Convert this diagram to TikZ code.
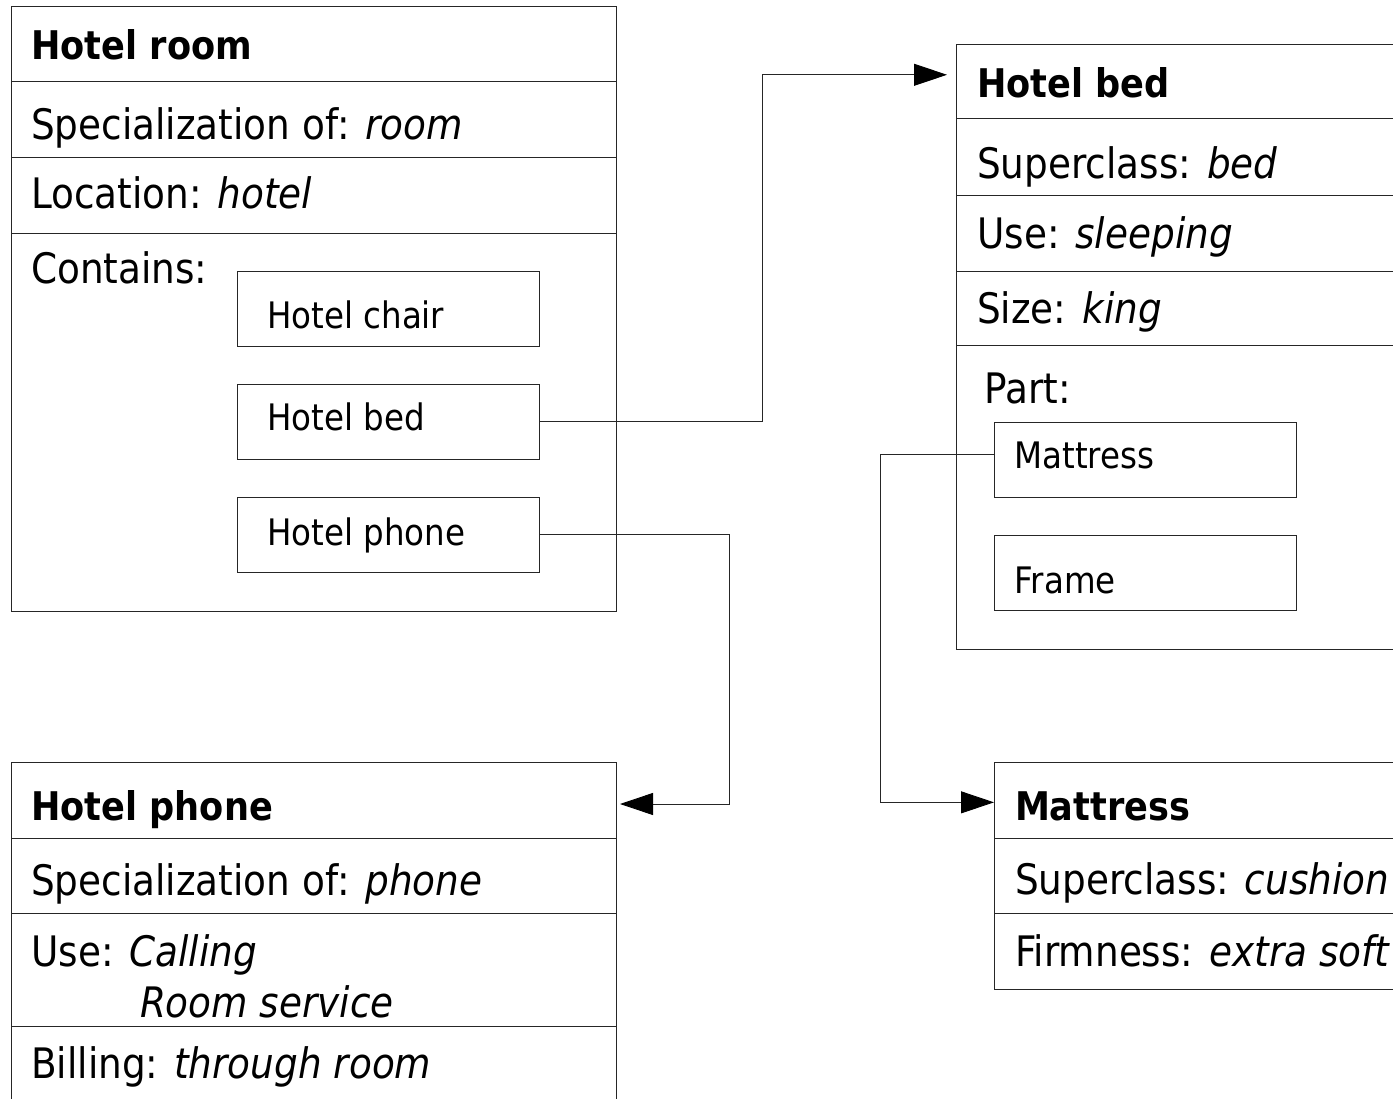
\documentclass[tikz,border=0pt]{standalone}
\usepackage{fontspec}
\setmainfont{DejaVu Sans}[FakeStretch=0.89]
\usetikzlibrary{
arrows.meta,
positioning
}

\begin{document}
\begin{tikzpicture}[
x=1pt, y=1pt,
row/.style={
rectangle,
draw=black!85,
line width=0.9pt,
anchor=north west,
inner sep=0pt,
outer sep=0pt,
minimum width=#1
},
part/.style={
rectangle,
draw=black!85,
line width=0.9pt,
anchor=north west,
inner sep=0pt,
outer sep=0pt,
minimum width=302pt,
minimum height=75.5pt
},
title/.style={anchor=base west, inner sep=0pt,
font=\fontsize{39.5}{47}\selectfont\bfseries},
field/.style={anchor=base west, inner sep=0pt,
font=\fontsize{42}{51}\selectfont},
item/.style={anchor=base west, inner sep=0pt,
font=\fontsize{36.5}{44}\selectfont},
arrow/.style={-{Triangle[length=33pt,width=22pt,color=black]},
draw=black!85, line width=0.9pt}
]

\useasboundingbox (0,0) rectangle (1393,-1099);
\clip (0,0) rectangle (1393,-1099);

% Hotel room
\node[row=605pt, minimum height=75pt] (roomA) at (11,-6) {};
\node[row=605pt, minimum height=76pt, below=0pt of roomA] (roomB) {};
\node[row=605pt, minimum height=76pt, below=0pt of roomB] (roomC) {};
\node[row=605pt, minimum height=378pt, below=0pt of roomC] (roomD) {};

\node[title] (roomT) at ([shift={(20,-53.3)}]roomA.north west) {Hotel room};
\node[field] (roomS) at ([shift={(20,-59)}]roomB.north west)
{Specialization of: \textit{room}};
\node[field] (roomL) at ([shift={(20,-52)}]roomC.north west)
{Location: \textit{hotel}};
\node[field] (roomK) at ([shift={(20,-51)}]roomD.north west) {Contains:};

\node[part] (chair) at (237.8,-271) {};
\node[part, below=37.5pt of chair] (bedref) {};
\node[part, below=37.5pt of bedref] (phoneref) {};

\node[item] (chairL) at ([shift={(29.2,-58)}]chair.north west) {Hotel chair};
\node[item] (bedrefL) at ([shift={(29.2,-47)}]bedref.north west) {Hotel bed};
\node[item] (phonerefL) at ([shift={(29.2,-48)}]phoneref.north west)
{Hotel phone};

% Hotel bed
\node[row=560pt, minimum height=73.6pt] (bedA) at (956.5,-44.7) {};
\node[row=560pt, minimum height=77.1pt, below=0pt of bedA] (bedB) {};
\node[row=560pt, minimum height=75.6pt, below=0pt of bedB] (bedC) {};
\node[row=560pt, minimum height=74.6pt, below=0pt of bedC] (bedD) {};
\node[row=560pt, minimum height=303.4pt, below=0pt of bedD] (bedE) {};

\node[title] (bedT) at ([shift={(20.5,-52.6)}]bedA.north west) {Hotel bed};
\node[field] (bedS) at ([shift={(20.5,-60)}]bedB.north west)
{Superclass: \textit{bed}};
\node[field] (bedU) at ([shift={(20.5,-53)}]bedC.north west)
{Use: \textit{sleeping}};
\node[field] (bedZ) at ([shift={(20.5,-53)}]bedD.north west)
{Size: \textit{king}};
\node[field] (bedP) at ([shift={(28,-58.2)}]bedE.north west) {Part:};

\node[part] (matref) at (994.5,-422.4) {};
\node[part, below=37.5pt of matref] (frame) {};

\node[item] (matrefL) at ([shift={(19.8,-45.6)}]matref.north west) {Mattress};
\node[item] (frameL) at ([shift={(19.8,-58)}]frame.north west) {Frame};

% Mattress
\node[row=500pt, minimum height=75.3pt] (matA) at (994,-762.7) {};
\node[row=500pt, minimum height=75.3pt, below=0pt of matA] (matB) {};
\node[row=500pt, minimum height=75.7pt, below=0pt of matB] (matC) {};

\node[title] (matT) at ([shift={(20.8,-57.3)}]matA.north west) {Mattress};
\node[field] (matS) at ([shift={(20.8,-56.5)}]matB.north west)
{Superclass: \textit{cushion}};
\node[field] (matF) at ([shift={(20.8,-53.4)}]matC.north west)
{Firmness: \textit{extra soft}};

% Hotel phone
\node[row=605pt, minimum height=75.6pt] (phoneA) at (11,-762.7) {};
\node[row=605pt, minimum height=75pt, below=0pt of phoneA] (phoneB) {};
\node[row=605pt, minimum height=113.4pt, below=0pt of phoneB] (phoneC) {};
\node[row=605pt, minimum height=120pt, below=0pt of phoneC] (phoneD) {};

\node[title] (phoneT) at ([shift={(20,-57.3)}]phoneA.north west) {Hotel phone};
\node[field] (phoneS) at ([shift={(20,-56.7)}]phoneB.north west)
{Specialization of: \textit{phone}};
\node[field] (phoneU) at ([shift={(20,-53.4)}]phoneC.north west)
{Use: \textit{Calling}};
\node[field] (phoneR) at ([shift={(128.8,-104.2)}]phoneC.north west)
{\textit{Room service}};
\node[field] (phoneG) at ([shift={(20,-51.6)}]phoneD.north west)
{Billing: \textit{through room}};

% links
\coordinate (bedin) at ([yshift=6.7pt]bedA.west);
\coordinate (phonein) at ([yshift=-3.5pt]phoneA.east);
\coordinate (matout) at ([yshift=5.6pt]matref.west);
\coordinate (matin) at ([yshift=-2pt]matA.west);

\draw[arrow, shorten >=9.5pt] (bedref.east) -- ++(222.8,0) |- (bedin);
\draw[arrow, shorten >=4pt] (phoneref.east) -- ++(189.5,0) |- (phonein);
\draw[arrow] (matout) -- ++(-113.9,0) |- (matin);

\end{tikzpicture}
\end{document}
